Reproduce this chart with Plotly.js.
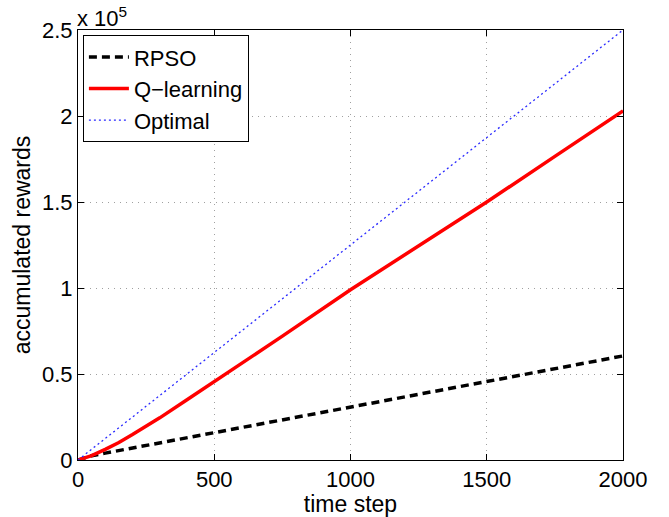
<!DOCTYPE html>
<html>
<head>
<meta charset="utf-8">
<script src="https://cdn.plot.ly/plotly-3.0.1.min.js"></script>
<style>html,body{margin:0;padding:0;background:#fff;}#chart{width:669px;height:517px;}</style>
</head>
<body>
<div id="chart"></div>
<script>
// time steps and accumulated rewards
var rpsoSteps = [0, 25, 50, 100, 250, 500, 750, 1000, 1250, 1500, 1750, 2000];
var rpsoRewards = [0, 1500, 2500, 4000, 8500, 16000, 23300, 30500, 38000, 45500, 53000, 60500];

var qSteps = [0, 50, 100, 150, 200, 250, 300, 400, 500, 600, 750, 1000, 1250, 1500, 1750, 2000];
var qRewards = [0, 2500, 6200, 10200, 14800, 19600, 24500, 35000, 45500, 56000, 72000, 99000, 124500, 150000, 176500, 203000];

var optSteps = [0, 500, 1000, 1500, 2000];
var optRewards = [0, 62500, 125000, 187500, 250000];

var xTicks = [0, 500, 1000, 1500, 2000];
var yTickVals = [0, 50000, 100000, 150000, 200000, 250000];
var yTickText = ['0', '0.5', '1', '1.5', '2', '2.5'];

var font = 'Liberation Sans, Arial, Helvetica, sans-serif';

var traces = [
  {x: rpsoSteps, y: rpsoRewards, name: 'RPSO', mode: 'lines',
   line: {color: '#000000', width: 3.5, dash: '8px,5px'}},
  {x: qSteps, y: qRewards, name: 'Q\u2212learning', mode: 'lines',
   line: {color: '#ff0000', width: 3.5}},
  {x: optSteps, y: optRewards, name: 'Optimal', mode: 'lines',
   line: {color: '#2a2aff', width: 1.3, dash: '2px,3px'}}
];

var axisCommon = {
  showline: true, linecolor: '#000', linewidth: 1, mirror: 'ticks',
  ticks: 'inside', ticklen: 6, tickcolor: '#000', tickwidth: 1,
  showgrid: true, gridcolor: '#a0a0a0', griddash: '1px,5px', gridwidth: 1,
  zeroline: false,
  tickfont: {family: font, size: 22, color: '#000'}
};

var layout = {
  width: 669, height: 517,
  margin: {l: 78, r: 46, t: 30, b: 57},
  paper_bgcolor: '#fff', plot_bgcolor: '#fff',
  font: {family: font, size: 22, color: '#000'},
  xaxis: Object.assign({}, axisCommon, {
    range: [0, 2000], tickvals: xTicks,
    title: {text: 'time step', font: {family: font, size: 23, color: '#000'}, standoff: 0}
  }),
  yaxis: Object.assign({}, axisCommon, {
    range: [0, 250000], tickvals: yTickVals, ticktext: yTickText,
    title: {text: 'accumulated rewards', font: {family: font, size: 23, color: '#000'}, standoff: 4}
  }),
  legend: {
    x: 0.009, y: 0.988, xanchor: 'left', yanchor: 'top',
    bgcolor: '#fff', bordercolor: '#000', borderwidth: 1,
    font: {family: font, size: 22, color: '#000'},
    itemwidth: 40, tracegroupgap: 0
  },
  showlegend: true,
  annotations: [{
    xref: 'paper', yref: 'paper', x: 0, y: 1, xanchor: 'left', yanchor: 'bottom',
    xshift: -3, yshift: -3,
    text: 'x 10<sup>5</sup>', showarrow: false,
    font: {family: font, size: 22, color: '#000'}
  }]
};

Plotly.newPlot('chart', traces, layout, {displayModeBar: false, staticPlot: true});
</script>
</body>
</html>
